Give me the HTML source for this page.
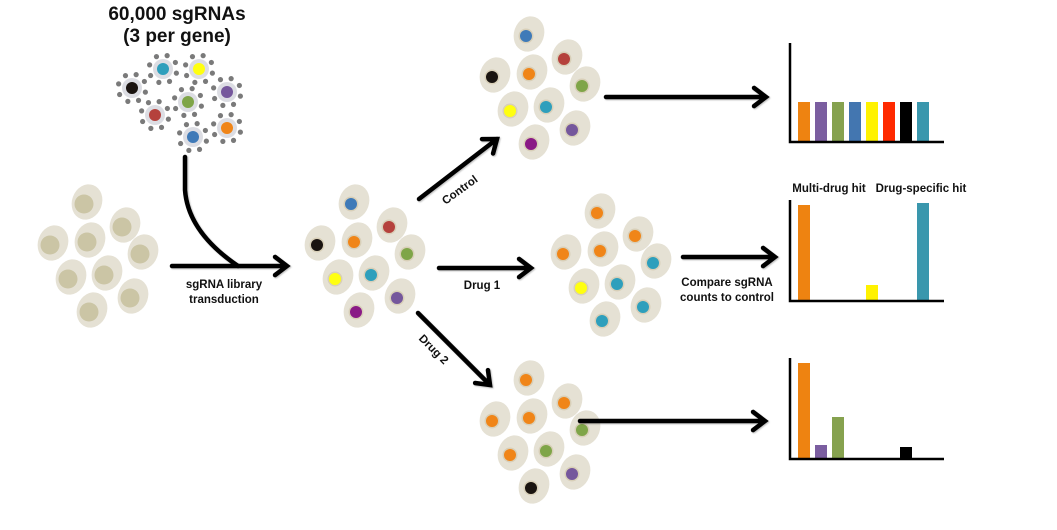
<!DOCTYPE html>
<html><head><meta charset="utf-8">
<style>
html,body{margin:0;padding:0;background:#fff;}
svg{display:block;}
text{font-family:"Liberation Sans",sans-serif;font-weight:bold;fill:#111;}
</style></head>
<body>
<svg id="fig" width="1057" height="530" viewBox="0 0 1057 530" xmlns="http://www.w3.org/2000/svg">
  <defs>
    <filter id="sh" x="-20%" y="-20%" width="140%" height="140%"><feDropShadow dx="1" dy="1" stdDeviation="0.8" flood-color="#000" flood-opacity="0.25"/></filter>
  </defs>
  <text x="177" y="20" font-size="19" text-anchor="middle">60,000 sgRNAs</text>
  <text x="177" y="42" font-size="19" text-anchor="middle">(3 per gene)</text>
  <g id="lib"></g>
  <g id="cells"></g>
  <g id="arrows" stroke="#000" stroke-width="4.5" fill="none" stroke-linecap="round" stroke-linejoin="miter" filter="url(#sh)">
    <path d="M185,157 L185,190 Q188,232 238,266"/>
  </g>
  <g font-size="11.5">
    <text x="224" y="288" text-anchor="middle">sgRNA library</text>
    <text x="224" y="303" text-anchor="middle">transduction</text>
    <text x="0" y="0" text-anchor="middle" transform="translate(462,193) rotate(-36)">Control</text>
    <text x="482" y="289" text-anchor="middle">Drug 1</text>
    <text x="0" y="0" text-anchor="middle" transform="translate(431,352) rotate(45)">Drug 2</text>
    <text x="727" y="286" text-anchor="middle">Compare sgRNA</text>
    <text x="727" y="301" text-anchor="middle">counts to control</text>
    <text x="829" y="192" text-anchor="middle">Multi-drug hit</text>
    <text x="921" y="192" text-anchor="middle">Drug-specific hit</text>
  </g>
  <g id="charts"></g>
</svg>
<script>
// ---- chart data ----
const barColors = ["#ee8311","#7b5ea0","#86a24f","#4376b0","#fff200","#ff2a00","#000000","#3a97ad"];
const geneSlots = [0,1,2,3,4,5,6,7];
const controlValues = [1,1,1,1,1,1,1,1];
const drug1Values = [2.4,0,0,0,0.4,0,0,2.45];
const drug2Values = [2.4,0.35,1.05,0,0,0,0.3,0];

const NS="http://www.w3.org/2000/svg";
function mk(tag, attrs, parent){const e=document.createElementNS(NS,tag);for(const k in attrs)e.setAttribute(k,attrs[k]);parent.appendChild(e);return e;}

// charts
const charts=document.getElementById('charts');
const panels=[{vals:controlValues,base:142,top:43,name:'control'},{vals:drug1Values,base:301,top:200,name:'drug1'},{vals:drug2Values,base:459,top:358,name:'drug2'}];
const x0=790, slotW=17, barW=12, unit=40;
function xPos(i){return x0+8+i*slotW;}
function yLen(v){return v*unit;}
panels.forEach(p=>{
  const g=mk('g',{},charts);
  
  
  p.vals.forEach((v,i)=>{
    if(v<=0)return;
    const r=mk('rect',{x:xPos(geneSlots[i]),y:p.base-yLen(v),width:barW,height:yLen(v),fill:barColors[i]},g);
    
    
  });
  const ax=mk('path',{d:`M${x0},${p.top} L${x0},${p.base} L944,${p.base}`,stroke:'#000','stroke-width':2.5,fill:'none'},g);
  
  
});

// arrows
const arrows=document.getElementById('arrows');
const arrowList=[[172,266,287,266],[419,199,497,139],[439,268,531,268],[418,313,490,385],[606,97,766,97],[683,257,775,257],[580,421,765,421]];
arrowList.forEach((a,i)=>{
  const [x1,y1,x2,y2]=a;const ang=Math.atan2(y2-y1,x2-x1);const L=15,W=0.65;
  const hx1=x2-L*Math.cos(ang-W),hy1=y2-L*Math.sin(ang-W),hx2=x2-L*Math.cos(ang+W),hy2=y2-L*Math.sin(ang+W);
  const p=mk('path',{d:`M${x1},${y1} L${x2},${y2} M${hx1},${hy1} L${x2},${y2} L${hx2},${hy2}`},arrows);
  
  
});

// cells
const cellsG=document.getElementById('cells');
const offs=[[0,0],[38,23],[-34,41],[3,38],[56,50],[-16,75],[20,71],[46,94],[5,108]];
const C={bl:"#3f7ab8",rd:"#b5413c",bk:"#1a1410",or:"#f08518",gr:"#7fa548",ye:"#ffff10",te:"#2e9fbc",pu:"#75579c",mg:"#8a1a86",n:"#cbc5a5"};
const clusters=[
  {name:'untransduced',o:[84,204],cols:Array(9).fill('n'),big:true},
  {name:'transduced',o:[351,204],cols:['bl','rd','bk','or','gr','ye','te','pu','mg']},
  {name:'control',o:[526,36],cols:['bl','rd','bk','or','gr','ye','te','pu','mg']},
  {name:'drug1',o:[597,213],cols:['or','or','or','or','te','ye','te','te','te']},
  {name:'drug2',o:[526,380],cols:['or','or','or','or','gr','or','gr','pu','bk']}
];
clusters.forEach(cl=>{
  const g=mk('g',{},cellsG);
  
  
  offs.forEach((o,i)=>{
    const nx=cl.o[0]+o[0],ny=cl.o[1]+o[1];
    const cx=nx+3,cy=ny-2;
    mk('ellipse',{cx:cx,cy:cy,rx:15,ry:18,fill:'#e5e1d4',transform:`rotate(20 ${cx} ${cy})`},g);
    if(cl.big){mk('circle',{cx:nx,cy:ny,r:9.5,fill:C.n},g);}
    else{mk('circle',{cx:nx,cy:ny,r:7.5,fill:'#d8cfb8'},g);mk('circle',{cx:nx,cy:ny,r:6,fill:C[cl.cols[i]]},g);}
  });
});

// library
const lib=document.getElementById('lib');
const libItems=[[132,88,'bk'],[163,69,'te'],[199,69,'ye'],[227,92,'pu'],[188,102,'gr'],[155,115,'rd'],[227,128,'or'],[193,137,'bl']];
libItems.forEach((it,i)=>{
  const g=mk('g',{},lib);
  
  
  for(let k=0;k<8;k++){const a=k*Math.PI/4+0.3;mk('circle',{cx:it[0]+14*Math.cos(a),cy:it[1]+14*Math.sin(a),r:2.6,fill:'#7a7a7a'},g);}
  mk('circle',{cx:it[0],cy:it[1],r:10,fill:'#dcdde3'},g);
  mk('circle',{cx:it[0],cy:it[1],r:6,fill:C[it[2]]},g);
});
</script>
</body></html>
